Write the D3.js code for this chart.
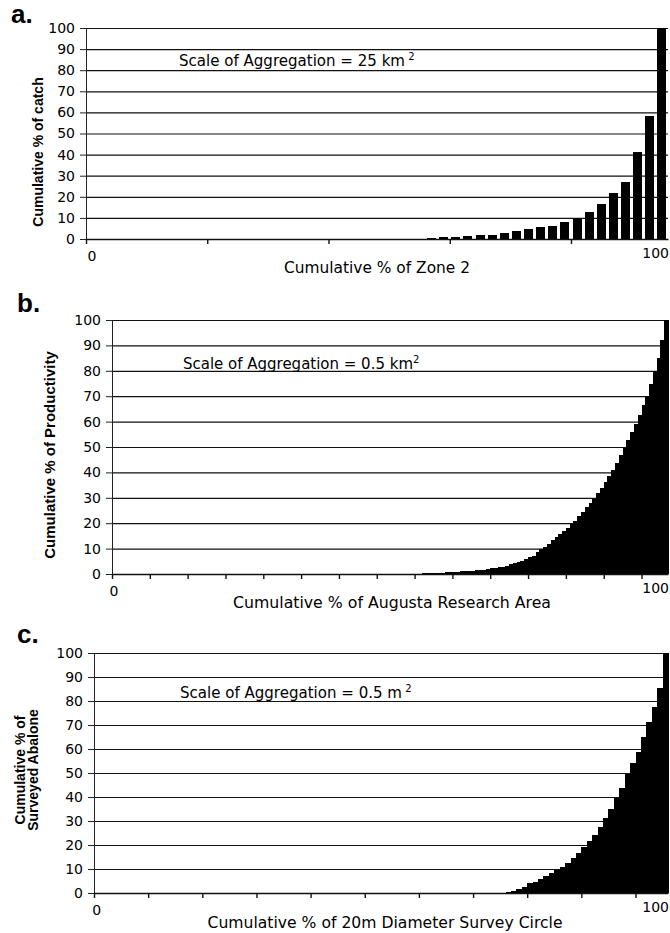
<!DOCTYPE html>
<html>
<head>
<meta charset="utf-8">
<script src="https://cdn.jsdelivr.net/npm/d3@7"></script>
<style>
body { margin: 0; background: #fff; }
svg { display: block; }
</style>
</head>
<body>
<svg id="chart" width="670" height="933"></svg>
<script>
// tick labels shared by all three panels
const yTickValues = [0, 10, 20, 30, 40, 50, 60, 70, 80, 90, 100];
const xEndLabels = ['0', '100'];

// a. cumulative % of catch, 48 cells of Zone 2
const catchPct = [
    0, 0, 0, 0, 0, 0, 0, 0, 0, 0, 0, 0, 0, 0, 0, 0, 0, 0, 0, 0,
    0, 0, 0, 0, 0, 0, 0, 0,
    0.5, 0.8, 1.1, 1.4, 1.7, 2.1, 2.7, 4.0, 4.6, 5.5,
    6.3, 8.2, 10.0, 12.7, 16.8, 21.7, 27.1, 41.1, 58.1, 100
];

// b. cumulative % of productivity, Augusta research area
const productivityPct = [
    0, 0, 0, 0, 0, 0, 0, 0, 0, 0, 0, 0, 0, 0, 0, 0, 0, 0, 0, 0,
    0, 0, 0, 0, 0, 0, 0, 0, 0, 0, 0, 0, 0, 0, 0, 0, 0, 0, 0, 0,
    0, 0, 0, 0, 0, 0, 0, 0, 0, 0, 0, 0, 0, 0, 0, 0, 0, 0, 0, 0,
    0, 0, 0, 0, 0, 0, 0, 0, 0, 0, 0, 0, 0, 0, 0, 0, 0, 0, 0, 0,
    0.1, 0.1, 0.2, 0.2, 0.3, 0.3, 0.4, 0.5, 0.6, 0.7,
    0.8, 0.9, 1.0, 1.1, 1.2, 1.3, 1.4, 1.6, 1.7, 1.9,
    2.2, 2.4, 2.7, 2.9, 3.3, 3.8, 4.2, 4.6, 5.2, 5.8,
    6.5, 7.1, 8.5, 9.7, 10.8, 12.0, 13.2, 14.4, 15.7, 17.0,
    18.3, 19.6, 21.0, 22.8, 24.5, 26.2, 27.9, 29.6, 31.8, 34.0,
    36.2, 38.4, 40.8, 43.8, 46.7, 49.6, 52.7, 55.9, 59.1, 62.6,
    66.4, 70.2, 75.0, 79.8, 85.0, 92.0, 100
];

// c. cumulative % of surveyed abalone, 20m survey circle
const abalonePct = [
    0, 0, 0, 0, 0, 0, 0, 0, 0, 0, 0, 0, 0, 0, 0, 0, 0, 0, 0, 0,
    0, 0, 0, 0, 0, 0, 0, 0, 0, 0, 0, 0, 0, 0, 0, 0, 0, 0, 0, 0,
    0, 0, 0, 0, 0, 0, 0, 0, 0, 0, 0, 0, 0, 0, 0, 0, 0, 0, 0, 0,
    0, 0, 0, 0, 0, 0, 0, 0, 0, 0, 0, 0, 0, 0, 0, 0,
    0.5, 1.0, 1.5, 2.6, 4.0, 4.7, 5.7, 7.0, 8.2, 9.6,
    11.0, 12.6, 14.4, 16.8, 19.0, 21.7, 24.2, 27.4, 31.1, 34.9,
    39.4, 43.9, 49.4, 54.0, 58.9, 65.1, 71.1, 77.6, 85.3, 100
];

const panels = [
    {
        tag: 'a.', tagX: 11, tagY: 23, values: catchPct, pad: 0.25,
        left: 86, right: 668, top: 28, bottom: 239,
        yTitle: ['Cumulative % of catch'], yTitleX: 38, yTitleY: 152, yTitleSize: 14,
        xTitle: 'Cumulative % of Zone 2', xTitleX: 377, xTitleY: 273, xTitleLen: 186,
        note: 'Scale of Aggregation = 25 km', noteSup: ' 2', noteX: 179, noteY: 66, noteLen: 226
    },
    {
        tag: 'b.', tagX: 17, tagY: 312, values: productivityPct, pad: 0,
        left: 112, right: 668, top: 320, bottom: 574,
        yTitle: ['Cumulative  % of Productivity'], yTitleX: 50, yTitleY: 455, yTitleSize: 15,
        xTitle: 'Cumulative % of Augusta Research Area', xTitleX: 392, xTitleY: 608, xTitleLen: 318,
        note: 'Scale of Aggregation = 0.5 km', noteSup: '2', noteX: 183, noteY: 369, noteLen: 230
    },
    {
        tag: 'c.', tagX: 17, tagY: 643, values: abalonePct, pad: 0,
        left: 94, right: 668, top: 653, bottom: 893,
        yTitle: ['Cumulative % of', 'Surveyed Abalone'], yTitleX: 27, yTitleY: 770, yTitleSize: 14,
        xTitle: 'Cumulative % of 20m Diameter Survey Circle', xTitleX: 385, xTitleY: 928, xTitleLen: 355,
        note: 'Scale of Aggregation = 0.5 m', noteSup: ' 2', noteX: 180, noteY: 698, noteLen: 222
    }
];

const svg = d3.select('#chart');
const tickFont = '"DejaVu Sans", sans-serif';
const titleFont = '"DejaVu Sans", sans-serif';

panels.forEach(p => {
    const n = p.values.length;
    const g = svg.append('g');

    const x = d3.scaleBand()
        .domain(d3.range(n))
        .range([p.left, p.right])
        .paddingInner(p.pad)
        .paddingOuter(p.pad / 2);
    // cell boundaries, for the tick marks every 10 cells
    const xEdge = d3.scaleLinear().domain([0, n]).range([p.left, p.right]);
    const y = d3.scaleLinear().domain([0, 100]).range([p.bottom, p.top]);

    // gridlines
    g.append('g')
        .attr('transform', `translate(${p.left},0)`)
        .call(d3.axisLeft(y).tickValues(yTickValues).tickSize(-(p.right - p.left)).tickFormat(''))
        .call(a => a.select('.domain').remove())
        .call(a => a.selectAll('line').attr('stroke', '#111').attr('stroke-width', 1.2));

    // bars
    g.append('g')
        .selectAll('rect')
        .data(p.values)
        .join('rect')
        .attr('x', (d, i) => x(i))
        .attr('y', d => y(d))
        .attr('width', x.bandwidth() + (p.pad === 0 ? 0.6 : 0))
        .attr('height', d => p.bottom - y(d))
        .attr('fill', '#000')
        .attr('shape-rendering', 'crispEdges');

    // y axis
    g.append('g')
        .attr('transform', `translate(${p.left},0)`)
        .call(d3.axisLeft(y).tickValues(yTickValues).tickSize(6).tickPadding(5))
        .call(a => a.selectAll('text').attr('font-family', tickFont).attr('font-size', 14).attr('fill', '#000'))
        .call(a => a.selectAll('path,line').attr('stroke', '#222'));

    // x axis
    g.append('g')
        .attr('transform', `translate(0,${p.bottom})`)
        .call(d3.axisBottom(xEdge).tickValues(d3.range(0, n, 10)).tickSize(5).tickSizeOuter(0).tickFormat(''))
        .call(a => a.selectAll('path,line').attr('stroke', '#111').attr('stroke-width', 1.4));

    // first and last category labels ("100" kept inside the page edge)
    g.selectAll('.xlab')
        .data(xEndLabels)
        .join('text')
        .attr('x', (d, i) => i === 0 ? x(0) + x.bandwidth() / 2 : Math.min(x(n - 1) + x.bandwidth() / 2 + 12, 669))
        .attr('y', (d, i) => p.bottom + (i === 0 ? 22 : 19))
        .attr('text-anchor', (d, i) => i === 0 ? 'middle' : 'end')
        .attr('font-family', tickFont)
        .attr('font-size', 14)
        .text(d => d);

    // axis titles
    g.append('text')
        .attr('x', p.xTitleX)
        .attr('y', p.xTitleY)
        .attr('text-anchor', 'middle')
        .attr('font-family', titleFont)
        .attr('font-size', 15)
        .attr('textLength', p.xTitleLen)
        .attr('lengthAdjust', 'spacingAndGlyphs')
        .text(p.xTitle);

    const yt = g.append('text')
        .attr('transform', `translate(${p.yTitleX},${p.yTitleY}) rotate(-90)`)
        .attr('text-anchor', 'middle')
        .attr('font-family', '"Liberation Sans", Arial, sans-serif')
        .attr('font-weight', 'bold')
        .attr('font-size', p.yTitleSize);
    yt.selectAll('tspan')
        .data(p.yTitle)
        .join('tspan')
        .attr('x', 0)
        .attr('dy', (d, i) => i === 0 ? (p.yTitle.length > 1 ? -2 : 5) : 13)
        .text(d => d);

    // note
    const note = g.append('text')
        .attr('x', p.noteX)
        .attr('y', p.noteY)
        .attr('font-family', titleFont)
        .attr('font-size', 15);
    note.append('tspan')
        .attr('textLength', p.noteLen)
        .attr('lengthAdjust', 'spacingAndGlyphs')
        .text(p.note);
    note.append('tspan').attr('dy', -6).attr('font-size', 10).text(p.noteSup);

    // panel tag
    g.append('text')
        .attr('x', p.tagX)
        .attr('y', p.tagY)
        .attr('font-family', '"Liberation Sans", Arial, sans-serif')
        .attr('font-weight', 'bold')
        .attr('font-size', 26)
        .text(p.tag);
});
</script>
</body>
</html>
